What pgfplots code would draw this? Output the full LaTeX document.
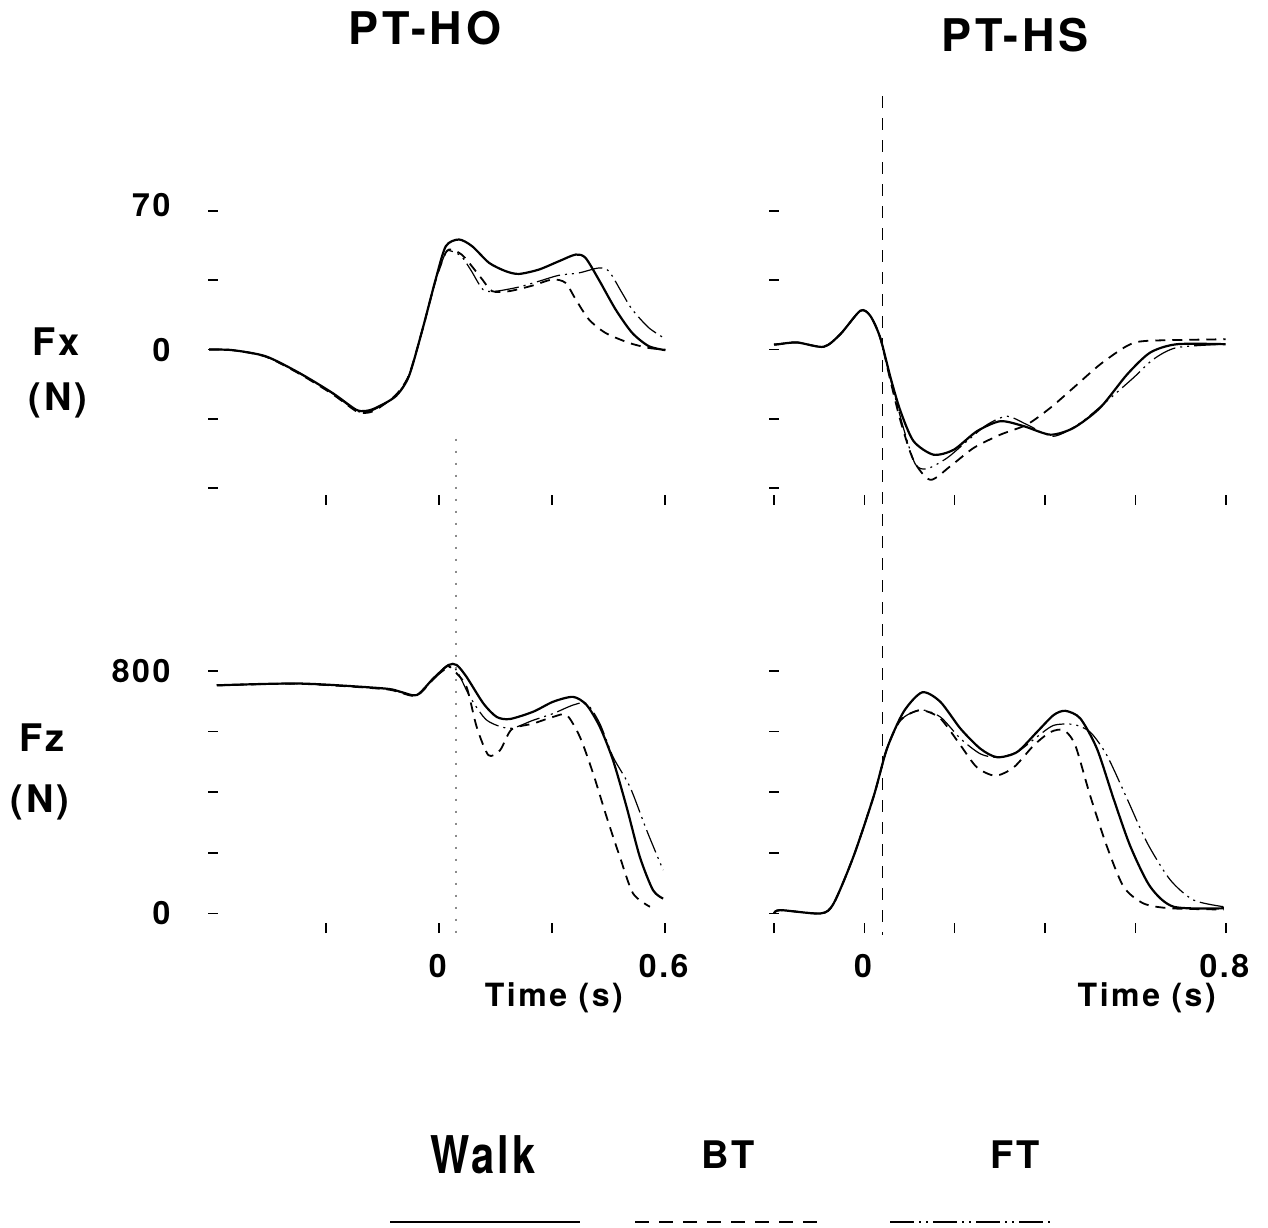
\documentclass[border=0pt]{standalone}
\usepackage{fontspec}
\setmainfont{TeX Gyre Heros}[LetterSpace=8]
\usepackage{pgfplots}
\pgfplotsset{compat=1.18}
\tikzset{
  walk/.style={black, line width=1.1pt},
  bt/.style={black, line width=0.9pt, dash pattern=on 5pt off 3.5pt},
  ft/.style={black, line width=0.6pt, dash pattern=on 12pt off 2.5pt on 1pt off 2.5pt on 1pt off 2.5pt},
}
\pgfplotsset{
  panel/.style={
    scale only axis, clip=false,
    axis x line*=bottom, axis y line*=left,
    axis line style={draw=none},
    xtick pos=bottom, ytick pos=left,
    tick align=center, major tick length=5pt,
    tick style={black, line width=0.8pt},
    minor tick num=0,
    ticklabel style={font=\bfseries\fontsize{16}{16}\selectfont},
    yticklabel style={xshift=-14pt},
    xticklabel style={yshift=-7pt},
    xlabel style={font=\bfseries\fontsize{16}{16}\selectfont, anchor=north, yshift=-24pt},
    every axis plot/.append style={smooth, tension=0.45, mark=none},
  },
  fx/.style={panel, height=144.5pt, ymin=-76, ymax=70, ytick={-70,-35,0,35,70}},
  fz/.style={panel, height=128.6pt, ymin=-48, ymax=800, ytick={0,200,400,600,800}},
  lft/.style={width=226pt, xmin=-0.6, xmax=0.6, xtick={-0.3,0,0.3,0.6}},
  rgt/.style={width=225.85pt, xmin=-0.2, xmax=0.8, xtick={-0.2,0,0.2,0.4,0.6,0.8}},
}
\begin{document}
\begin{tikzpicture}
\useasboundingbox (0,0) rectangle (634pt,613.5pt);

% ---------------- PT-HO, Fx ----------------
\begin{axis}[fx, lft, at={(106.5pt,363.5pt)}, anchor=south west,
  xticklabels={,,,}, yticklabels={,,\textbf{0},,\raisebox{6pt}{\textbf{70}}}]
\addplot[walk] coordinates {(-0.61,0) (-0.548,-0.3) (-0.46,-3.4) (-0.371,-11.8) (-0.283,-21.9) (-0.221,-30.3) (-0.195,-31) (-0.168,-29.5) (-0.115,-23.6) (-0.08,-13.5) (-0.044,10.1) (-0.009,35.4) (0.018,52.2) (0.053,55.6) (0.088,52.2) (0.133,43.8) (0.177,39.6) (0.212,38.2) (0.265,40.4) (0.318,44.6) (0.363,48.0) (0.389,46.3) (0.424,35.4) (0.469,20.2) (0.513,8.4) (0.557,1.7) (0.601,-0.3)};
\addplot[bt] coordinates {(-0.61,0) (-0.548,-0.3) (-0.46,-3.6) (-0.371,-12.2) (-0.283,-22.5) (-0.221,-31) (-0.195,-32) (-0.168,-30.5) (-0.115,-23) (-0.08,-13) (-0.044,10) (-0.009,35) (0.018,49) (0.035,50.5) (0.06,48) (0.08,43.8) (0.115,35.4) (0.141,29.5) (0.186,29.5) (0.248,32.3) (0.301,35.4) (0.336,33.7) (0.363,25.3) (0.398,15.2) (0.442,8.4) (0.504,3.4) (0.557,0.8) (0.601,0)};
\addplot[ft] coordinates {(-0.61,0) (-0.548,-0.3) (-0.46,-3.5) (-0.371,-12) (-0.283,-22.2) (-0.221,-30.8) (-0.195,-31.5) (-0.168,-30) (-0.115,-23.3) (-0.08,-13.2) (-0.044,10) (-0.009,35) (0.018,49) (0.035,49.6) (0.06,47) (0.085,40) (0.117,30.3) (0.151,29.5) (0.212,31.6) (0.265,34.5) (0.318,37.5) (0.371,38.7) (0.424,41.2) (0.451,39.6) (0.486,28.6) (0.513,20.2) (0.557,11.0) (0.601,5.4)};
\coordinate (lt) at (axis cs:0.045,-45);
\end{axis}

% ---------------- PT-HS, Fx ----------------
\begin{axis}[fx, rgt, at={(387pt,363.5pt)}, anchor=south west,
  xticklabels={,,,,,}, yticklabels={,,,,}]
\addplot[walk] coordinates {(-0.2,2.5) (-0.19,2.7) (-0.149,3.6) (-0.09,1.4) (-0.053,7.8) (-0.009,19.6) (0.013,17.1) (0.035,6.1) (0.058,-14.2) (0.08,-31.1) (0.109,-46.3) (0.153,-53.1) (0.198,-50.6) (0.249,-41.3) (0.301,-36.2) (0.353,-38.7) (0.412,-43.0) (0.463,-39.6) (0.522,-29.4) (0.582,-12.5) (0.633,-1.5) (0.692,2.7) (0.8,2.7)};
\addplot[bt] coordinates {(-0.2,2.5) (-0.19,2.7) (-0.149,3.6) (-0.09,1.4) (-0.053,7.8) (-0.009,19.6) (0.013,17.1) (0.035,6.1) (0.058,-16) (0.08,-36) (0.109,-56) (0.146,-65.8) (0.19,-59) (0.242,-49.7) (0.301,-43) (0.36,-37.9) (0.412,-29.4) (0.463,-19.3) (0.522,-7.5) (0.582,1.9) (0.626,4.4) (0.8,5.2)};
\addplot[ft] coordinates {(-0.2,2.5) (-0.19,2.7) (-0.149,3.6) (-0.09,1.4) (-0.053,7.8) (-0.009,19.6) (0.013,17.1) (0.035,6.1) (0.058,-15) (0.087,-40) (0.113,-58) (0.139,-60.2) (0.183,-54.8) (0.227,-46.3) (0.272,-37.9) (0.316,-33.7) (0.36,-37.9) (0.419,-43.8) (0.478,-37.1) (0.537,-26) (0.596,-14.2) (0.64,-4.9) (0.692,1.0) (0.8,2.7)};
\coordinate (rt) at (axis cs:0.04,128);
\end{axis}

% ---------------- PT-HO, Fz ----------------
\begin{axis}[fz, lft, at={(106.5pt,149.5pt)}, anchor=south west,
  xticklabels={,\textbf{0},,\textbf{0.6}}, yticklabels={\textbf{0},,,,\textbf{800}},
  xlabel={\textbf{Time (s)}}, xlabel style={at={(rel axis cs:0.757,0)}}]
\addplot[walk] coordinates {(-0.59,752) (-0.369,758) (-0.148,742) (-0.103,731) (-0.059,720) (-0.015,775) (0.025,819) (0.047,819) (0.073,780) (0.118,692) (0.153,648) (0.188,641) (0.25,665) (0.303,698) (0.356,714) (0.392,687) (0.427,615) (0.462,505) (0.498,351) (0.533,187) (0.568,77) (0.595,49)};
\addplot[bt] coordinates {(-0.59,752) (-0.369,757) (-0.148,740) (-0.103,728) (-0.059,718) (-0.015,772) (0.02,815) (0.04,800) (0.073,747) (0.1,615) (0.131,522) (0.162,538) (0.193,607) (0.25,626) (0.303,648) (0.339,654) (0.374,582) (0.409,462) (0.445,318) (0.48,187) (0.515,66) (0.56,22)};
\addplot[ft] coordinates {(-0.59,752) (-0.369,757) (-0.148,741) (-0.103,730) (-0.059,719) (-0.015,773) (0.038,813) (0.082,714) (0.127,637) (0.188,610) (0.25,637) (0.303,659) (0.356,687) (0.392,692) (0.427,626) (0.462,516) (0.507,417) (0.551,275) (0.595,143)};
\coordinate (lb) at (axis cs:0.045,-72);
\end{axis}

% ---------------- PT-HS, Fz ----------------
\begin{axis}[fz, rgt, at={(387pt,149.5pt)}, anchor=south west,
  xticklabels={,\textbf{0},,,,\textbf{0.8}}, yticklabels={,,,,},
  xlabel={\textbf{Time (s)}}, xlabel style={at={(rel axis cs:0.828,0)}}]
\addplot[walk] coordinates {(-0.2,0) (-0.186,11) (-0.097,0) (-0.068,33) (-0.024,188) (0.021,388) (0.05,543) (0.087,665) (0.128,729) (0.168,698) (0.213,609) (0.257,543) (0.294,515) (0.338,532) (0.382,598) (0.419,654) (0.445,668) (0.478,643) (0.515,543) (0.552,377) (0.589,221) (0.633,88) (0.685,22) (0.796,17)};
\addplot[bt] coordinates {(-0.2,0) (-0.186,11) (-0.097,0) (-0.068,33) (-0.024,188) (0.021,388) (0.05,543) (0.08,637) (0.124,670) (0.168,643) (0.213,554) (0.249,482) (0.29,454) (0.331,482) (0.375,554) (0.412,598) (0.442,604) (0.467,554) (0.5,388) (0.537,221) (0.574,88) (0.618,33) (0.677,17) (0.796,13)};
\addplot[ft] coordinates {(-0.2,0) (-0.186,11) (-0.097,0) (-0.068,33) (-0.024,188) (0.021,388) (0.05,543) (0.08,637) (0.124,671) (0.168,648) (0.213,576) (0.257,526) (0.294,515) (0.338,532) (0.382,582) (0.419,620) (0.463,623) (0.5,598) (0.537,521) (0.582,377) (0.626,233) (0.677,111) (0.729,44) (0.796,22)};
\coordinate (rb) at (axis cs:0.04,-72);
\end{axis}

% event lines
\draw[black!45, line width=0.6pt, dash pattern=on 1pt off 5pt] (lt) -- (lb);
\draw[black, line width=0.7pt, dash pattern=on 6pt off 5pt] (rt) -- (rb);

% titles and axis names
\node[font=\bfseries\fontsize{22.5}{22.5}\selectfont] at (212.5pt,599.5pt) {PT-HO};
\node[font=\bfseries\fontsize{22.5}{22.5}\selectfont] at (507.5pt,596pt) {PT-HS};
\node[font=\bfseries\fontsize{19}{19}\selectfont] at (28pt,442.5pt) {Fx};
\node[font=\bfseries\fontsize{19}{19}\selectfont] at (29pt,413.5pt) {(N)};
\node[font=\bfseries\fontsize{19}{19}\selectfont] at (21pt,244.5pt) {Fz};
\node[font=\bfseries\fontsize{19}{19}\selectfont] at (20pt,212.5pt) {(N)};

% legend
\node[font=\bfseries\fontsize{26}{26}\selectfont] at (241.5pt,36pt) {\scalebox{0.8}[1]{Walk}};
\node[font=\bfseries\fontsize{19}{19}\selectfont] at (364pt,36pt) {BT};
\node[font=\bfseries\fontsize{19}{19}\selectfont] at (507.5pt,36pt) {FT};
\draw[walk] (195pt,2.5pt) -- (290pt,2.5pt);
\draw[bt, dash pattern=on 7pt off 5pt] (317.5pt,2.5pt) -- (412.5pt,2.5pt);
\draw[ft, line width=0.8pt] (445pt,2.5pt) -- (525pt,2.5pt);
\end{tikzpicture}
\end{document}
